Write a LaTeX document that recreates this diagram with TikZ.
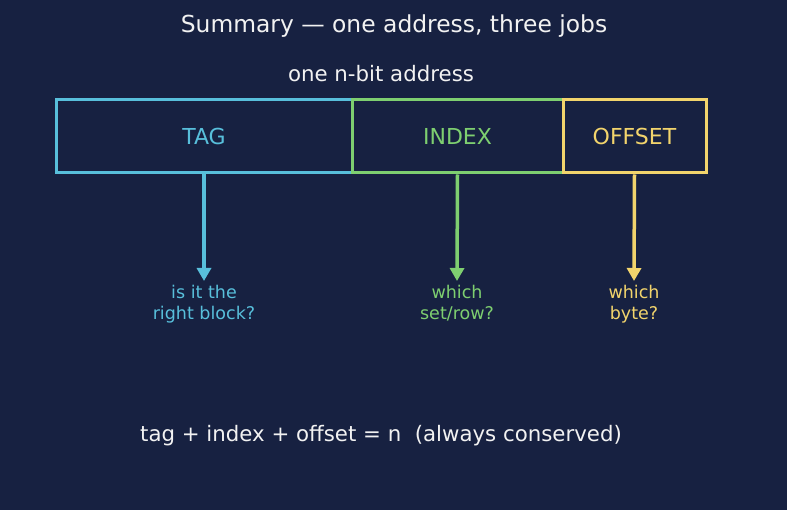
\documentclass[tikz,border=0pt]{standalone}
\usepackage{fontspec}
\setmainfont{DejaVu Sans}
\usetikzlibrary{arrows.meta,positioning}

\definecolor{bgnavy}{HTML}{172141}
\definecolor{tagcol}{HTML}{58BFDB}
\definecolor{idxcol}{HTML}{7ECF70}
\definecolor{offcol}{HTML}{F2D46C}
\definecolor{txtcol}{HTML}{F2F2F2}

\begin{document}
\begin{tikzpicture}[
    x=1pt, y=-1pt,
    % --- STYLES ---
    field/.style={
        rectangle, draw=#1, line width=3pt,
        minimum height=73pt, inner sep=0pt,
        text=#1, font=\fontsize{22}{26}\selectfont
    },
    question/.style={
        text=#1, align=center, anchor=north, inner xsep=2pt, inner ysep=4pt,
        font=\fontsize{17.5}{21.5}\selectfont
    },
    job/.style={
        draw=#1, line width=3.5pt,
        -{Triangle[length=13pt,width=14pt]}
    }
]

% ===== 1. BACKGROUND =====
\fill[bgnavy] (0,0) rectangle (787,510);
\useasboundingbox (0,0) rectangle (787,510);

% ===== 2. HEADERS =====
\node[text=txtcol, font=\fontsize{23.4}{28}\selectfont] (title) at (394,26.5) {Summary — one address, three jobs};
\node[text=txtcol, font=\fontsize{21.3}{25}\selectfont] (sub) at (381,74) {one n-bit address};

% ===== 3. ADDRESS FIELDS =====
\node[field=tagcol, minimum width=296pt] (tag) at (204,136.5) {TAG};
\node[field=idxcol, minimum width=211pt] (idx) at (457.5,136.5) {INDEX};
\node[field=offcol, minimum width=143pt] (off) at (634.5,136.5) {OFFSET};

% ===== 4. QUESTIONS =====
\node[question=tagcol] (tagq) at (204,281) {is it the\\right block?};
\node[question=idxcol] (idxq) at (457,281) {which\\set/row?};
\node[question=offcol] (offq) at (634,281) {which\\byte?};

% ===== 5. CONNECTIONS =====
\draw[job=tagcol] (tag.south) -- (tagq.north);
\draw[job=idxcol] (idx.south) -- (idxq.north);
\draw[job=offcol] (off.south) -- (offq.north);

% ===== 6. FOOTER =====
\node[text=txtcol, font=\fontsize{21.3}{25}\selectfont] (note) at (381,435.5) {tag + index + offset = n\ \ (always conserved)};

\end{tikzpicture}
\end{document}
